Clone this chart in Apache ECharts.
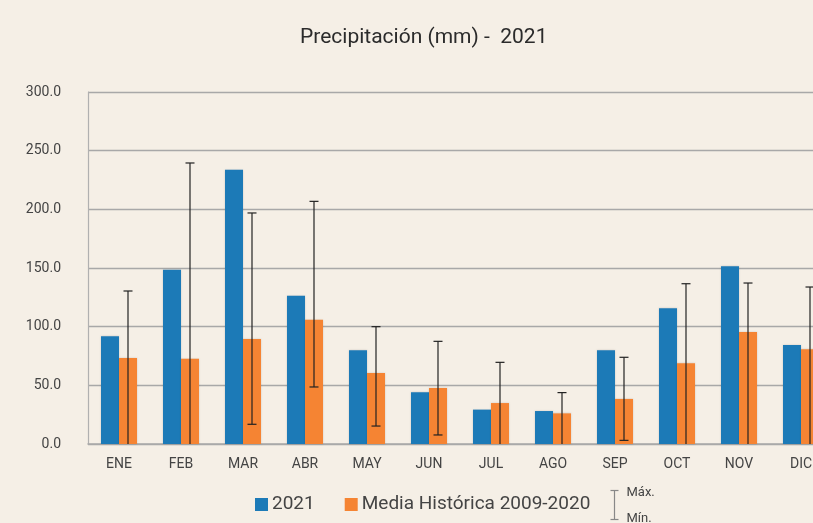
<!DOCTYPE html>
<html>
<head>
<meta charset="utf-8">
<script src="https://cdn.jsdelivr.net/npm/echarts@6/dist/echarts.min.js"></script>
<style>
  html, body { margin: 0; padding: 0; background: #f5efe6; }
  #chart { width: 813px; height: 523px; }
</style>
</head>
<body>
<div id="chart"></div>
<script>
// Monthly precipitation (mm): 2021 vs. 2009-2020 historical mean with min/max range
const months = ['ENE', 'FEB', 'MAR', 'ABR', 'MAY', 'JUN', 'JUL', 'AGO', 'SEP', 'OCT', 'NOV', 'DIC'];
const rain2021 = [91.8, 148.6, 233.8, 126.4, 79.8, 44.0, 29.3, 28.1, 79.8, 115.6, 151.4, 84.4];
const histMean = [73.3, 72.7, 89.5, 106.0, 60.5, 47.7, 34.9, 26.1, 38.4, 68.8, 95.5, 80.7];
const histMax = [130.4, 239.5, 196.9, 206.8, 100.0, 87.5, 69.6, 43.8, 73.9, 136.6, 137.2, 133.8];
const histMin = [0, 0, 16.8, 48.6, 15.3, 7.7, 0, 0, 3.1, 0, 0, 0];
const yTicks = [0, 50, 100, 150, 200, 250, 300];

const BAR_W = 18;
const rangeData = months.map((m, i) => [i, histMin[i], histMax[i]]);

const chart = echarts.init(document.getElementById('chart'), null, { renderer: 'canvas' });

chart.setOption({
  backgroundColor: '#f5efe6',
  animation: false,
  textStyle: { fontFamily: 'Roboto, "Liberation Sans", sans-serif' },
  title: {
    text: 'Precipitación (mm) -  2021',
    left: 295,
    top: 22,
    textStyle: { fontSize: 21, fontWeight: 'normal', color: '#2b2b2b' }
  },
  // the plot runs on past the right edge of the page, so the last column is cut off
  grid: { left: 88, width: 744, top: 92, height: 352, containLabel: false, outerBoundsMode: 'none' },
  legend: {
    data: ['2021', 'Media Histórica 2009-2020'],
    left: 250,
    top: 490,
    icon: 'rect',
    itemWidth: 13,
    itemHeight: 13,
    itemGap: 30,
    textStyle: { fontSize: 19, color: '#444', padding: [0, 0, 0, -1] }
  },
  xAxis: {
    type: 'category',
    data: months,
    axisLine: { show: true, lineStyle: { color: '#a9a9a9', width: 1.5 } },
    axisTick: { show: false },
    axisLabel: { color: '#444', fontSize: 14, margin: 13 }
  },
  yAxis: {
    type: 'value',
    min: yTicks[0],
    max: yTicks[yTicks.length - 1],
    interval: yTicks[1] - yTicks[0],
    axisLine: { show: true, lineStyle: { color: '#b0b0b0', width: 1.2 } },
    axisTick: { show: false },
    axisLabel: {
      color: '#444',
      fontSize: 14,
      margin: 27,
      formatter: v => v.toFixed(1)
    },
    splitLine: { show: true, lineStyle: { color: '#a8a8a8', width: 1.3 } }
  },
  series: [
    {
      name: '2021',
      type: 'bar',
      data: rain2021,
      barWidth: BAR_W,
      barGap: '0%',
      itemStyle: { color: '#1c7ab7', shadowColor: 'rgba(0,0,0,0.15)', shadowBlur: 2 }
    },
    {
      name: 'Media Histórica 2009-2020',
      type: 'bar',
      data: histMean,
      barWidth: BAR_W,
      barGap: '0%',
      itemStyle: { color: '#f58433', shadowColor: 'rgba(0,0,0,0.15)', shadowBlur: 2 }
    },
    {
      name: 'Rango',
      type: 'custom',
      data: rangeData,
      z: 10,
      renderItem: function (params, api) {
        const idx = api.value(0);
        const top = api.coord([idx, api.value(2)]);
        const bot = api.coord([idx, api.value(1)]);
        const x = top[0] + BAR_W / 2;
        const capHalf = 4.5;
        const style = { stroke: '#222', lineWidth: 1.2 };
        const children = [
          { type: 'line', shape: { x1: x, y1: top[1], x2: x, y2: bot[1] }, style },
          { type: 'line', shape: { x1: x - capHalf, y1: top[1], x2: x + capHalf, y2: top[1] }, style }
        ];
        if (api.value(1) > 0) {
          children.push({ type: 'line', shape: { x1: x - capHalf, y1: bot[1], x2: x + capHalf, y2: bot[1] }, style });
        }
        return { type: 'group', children };
      }
    }
  ],
  graphic: [
    {
      type: 'group',
      left: 608,
      top: 486,
      children: [
        { type: 'line', shape: { x1: 5, y1: 2, x2: 5, y2: 31 }, style: { stroke: '#888', lineWidth: 1.2 } },
        { type: 'line', shape: { x1: 1, y1: 2, x2: 9, y2: 2 }, style: { stroke: '#888', lineWidth: 1.2 } },
        { type: 'line', shape: { x1: 1, y1: 31, x2: 9, y2: 31 }, style: { stroke: '#888', lineWidth: 1.2 } },
        { type: 'text', x: 17, y: 4, style: { text: 'Máx.', fontSize: 13, fill: '#444', fontFamily: 'Roboto, sans-serif', verticalAlign: 'middle' } },
        { type: 'text', x: 17, y: 30, style: { text: 'Mín.', fontSize: 13, fill: '#444', fontFamily: 'Roboto, sans-serif', verticalAlign: 'middle' } }
      ]
    }
  ]
});
</script>
</body>
</html>
